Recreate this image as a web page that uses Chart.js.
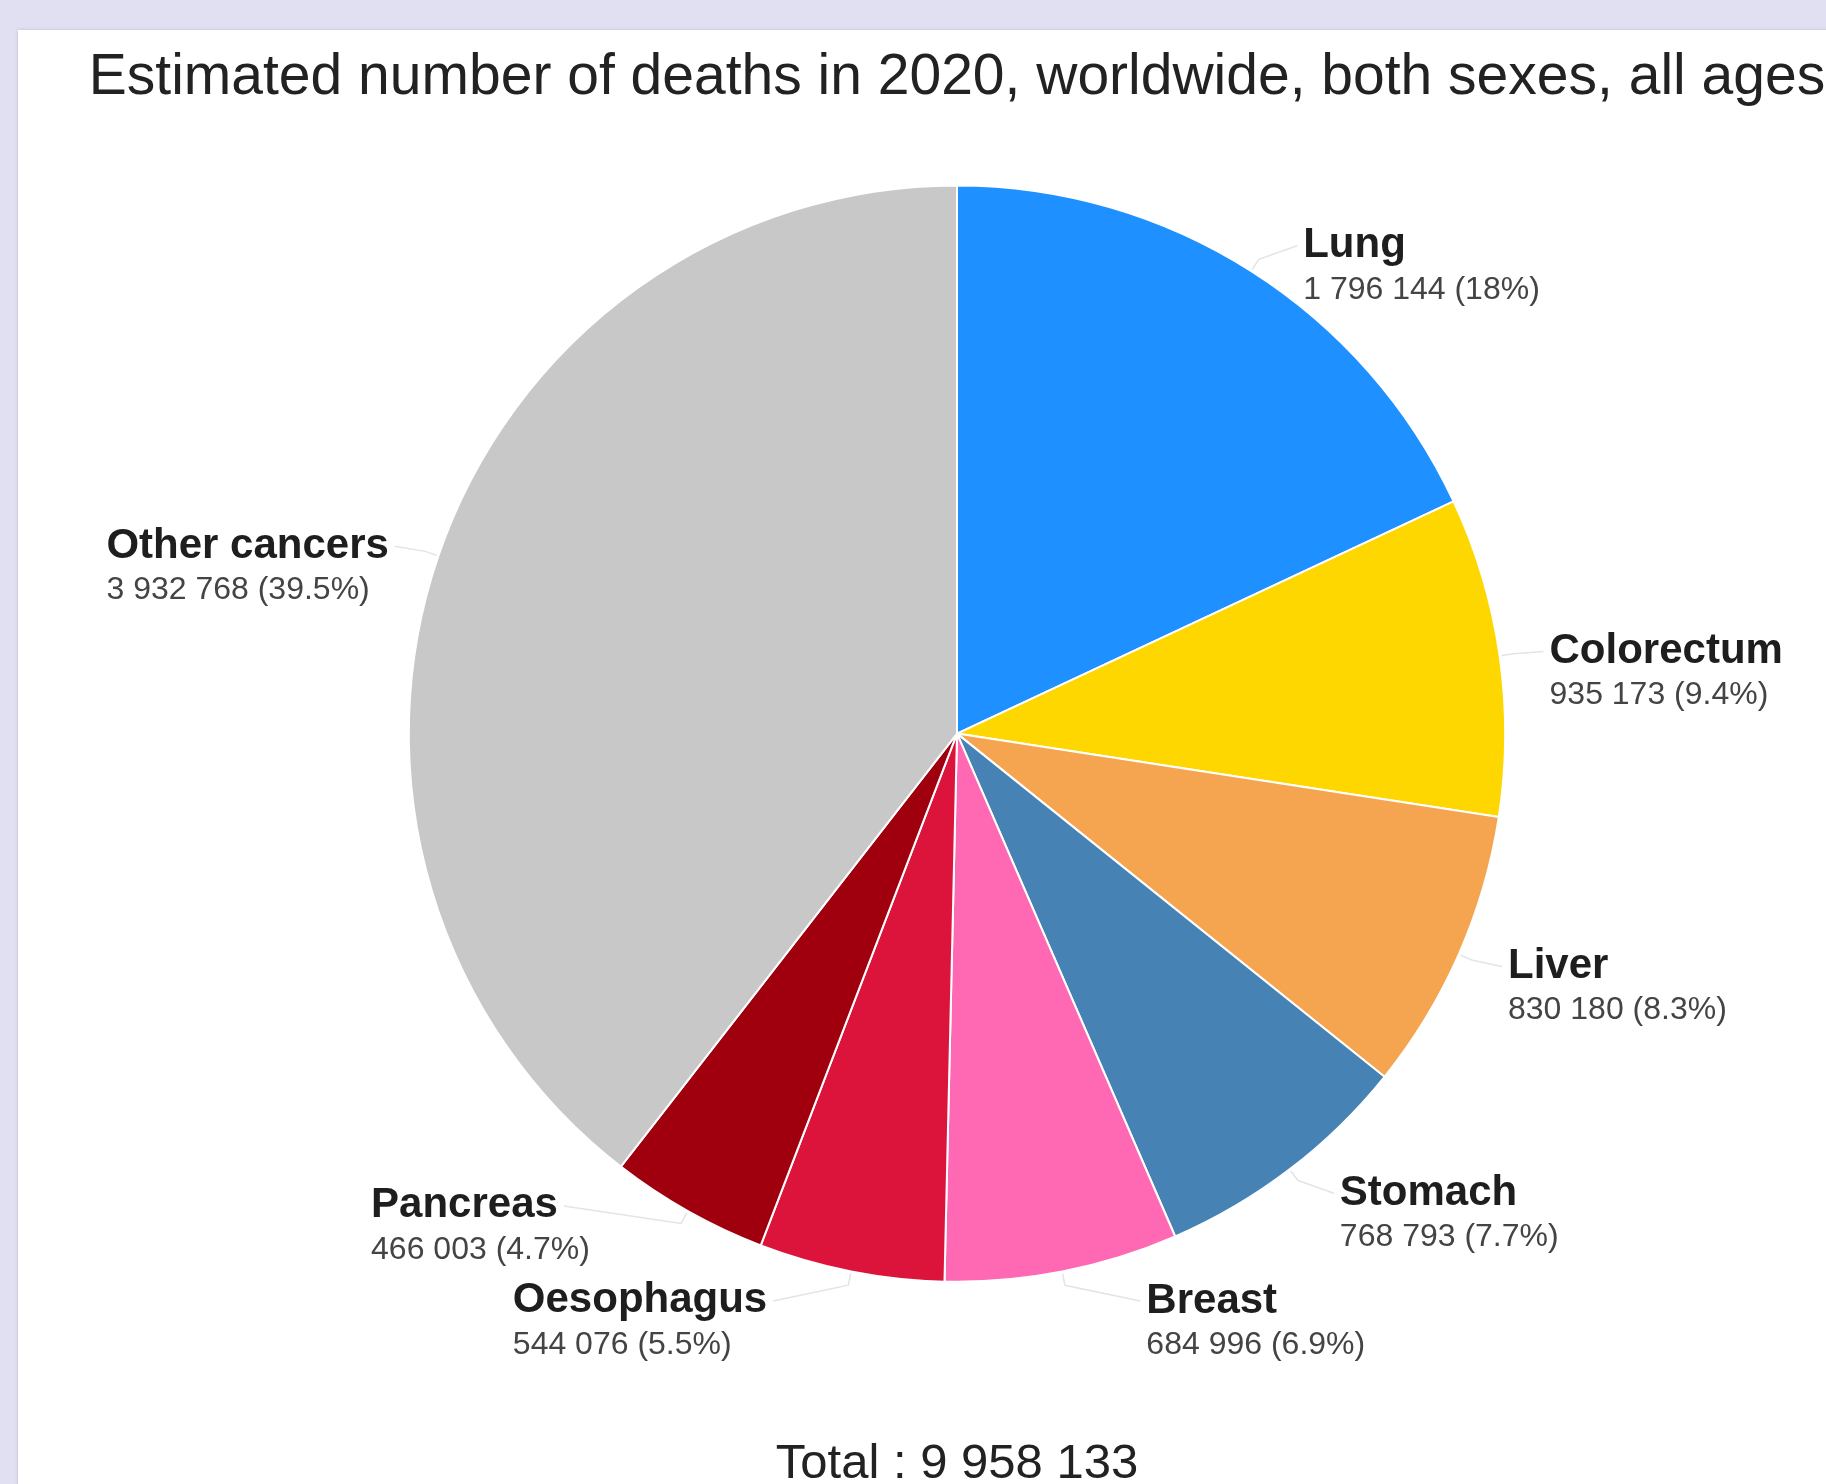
<!DOCTYPE html>
<html lang="en">
<head>
  <meta charset="UTF-8">
  <title>Estimated number of deaths in 2020</title>
  <script src="https://cdn.jsdelivr.net/npm/chart.js"></script>
  <style>
    html, body { margin: 0; padding: 0; background: #e1e0f2; overflow: hidden; }
    #panel { position: absolute; left: 18px; top: 30px; width: 1840px; height: 1500px; background: #fff;
             box-shadow: 0 0 3px rgba(120, 120, 160, 0.35); }
    #deathChart { position: absolute; left: 0; top: 0; }
  </style>
</head>
<body>
  <div id="panel"></div>
  <canvas id="deathChart" width="1826" height="1484"></canvas>

  <script>
    const categories = ['Lung', 'Colorectum', 'Liver', 'Stomach', 'Breast', 'Oesophagus', 'Pancreas', 'Other cancers'];
    const deaths = [1796144, 935173, 830180, 768793, 684996, 544076, 466003, 3932768];
    const sliceColors = ['#1e90ff', '#ffd700', '#f5a54f', '#4682b4', '#ff69b4', '#dc143c', '#a0000e', '#c8c8c8'];
    const titleText = 'Estimated number of deaths in 2020, worldwide, both sexes, all ages';

    const FONT = "'Liberation Sans', Arial, sans-serif";
    const total = deaths.reduce((a, b) => a + b, 0);

    // 1796144 -> "1 796 144"
    function spaced(n) {
      return String(n).replace(/\B(?=(\d{3})+(?!\d))/g, ' ');
    }
    function pct(n) {
      return (n / total * 100).toFixed(1).replace(/\.0$/, '') + '%';
    }

    // labels outside the pie, with faint connectors
    const sliceLabels = {
      id: 'sliceLabels',
      afterDatasetsDraw(chart) {
        const ctx = chart.ctx;
        const meta = chart.getDatasetMeta(0);
        const gap = 95;

        const items = meta.data.map((arc, i) => {
          const a = (arc.startAngle + arc.endAngle) / 2;
          return {
            i, a, arc,
            right: Math.cos(a) >= 0,
            y: arc.y + Math.sin(a) * (arc.outerRadius + 30)
          };
        });

        // push overlapping labels apart, per side
        [true, false].forEach(side => {
          const list = items.filter(it => it.right === side).sort((p, q) => p.y - q.y);
          for (let k = list.length - 2; k >= 0; k--) {
            if (list[k].y > list[k + 1].y - gap) list[k].y = list[k + 1].y - gap;
          }
        });

        ctx.save();
        items.forEach(it => {
          const arc = it.arc;
          const cx = arc.x, cy = arc.y, r = arc.outerRadius;
          const name = categories[it.i];
          const value = spaced(deaths[it.i]) + ' (' + pct(deaths[it.i]) + ')';

          ctx.font = 'bold 42px ' + FONT;
          const wName = ctx.measureText(name).width;
          ctx.font = '32px ' + FONT;
          const wVal = ctx.measureText(value).width;
          const w = Math.max(wName, wVal);

          const dy = it.y - cy;
          const dx = Math.sqrt(Math.max(0, (r + 50) * (r + 50) - dy * dy));
          const left = it.right ? cx + dx : cx - dx - w;

          // connector
          const ex = it.right ? left - 6 : left + wName + 6;
          ctx.strokeStyle = '#e4e4e4';
          ctx.lineWidth = 1.5;
          ctx.beginPath();
          ctx.moveTo(cx + Math.cos(it.a) * (r + 2), cy + Math.sin(it.a) * (r + 2));
          ctx.lineTo(cx + Math.cos(it.a) * (r + 14), cy + Math.sin(it.a) * (r + 14));
          ctx.lineTo(ex, it.y);
          ctx.stroke();

          ctx.textAlign = 'left';
          ctx.textBaseline = 'middle';
          ctx.fillStyle = '#1e1e1e';
          ctx.font = 'bold 42px ' + FONT;
          ctx.fillText(name, left, it.y);
          ctx.fillStyle = '#444';
          ctx.font = '32px ' + FONT;
          ctx.fillText(value, left, it.y + 44);
        });
        ctx.restore();
      }
    };

    const ctx = document.getElementById('deathChart').getContext('2d');
    const deathChart = new Chart(ctx, {
      type: 'pie',
      data: {
        labels: categories,
        datasets: [{
          data: deaths,
          backgroundColor: sliceColors,
          borderColor: '#ffffff',
          borderWidth: 2
        }]
      },
      options: {
        responsive: false,
        animation: false,
        layout: { padding: { left: 88, right: 0, top: 0, bottom: 0 } },
        plugins: {
          legend: { display: false },
          tooltip: { enabled: false },
          title: {
            display: true,
            text: titleText,
            color: '#222',
            font: { family: FONT, size: 57, weight: 'normal', lineHeight: 1.2 },
            padding: { top: 44, bottom: 72 }
          },
          subtitle: {
            display: true,
            position: 'bottom',
            text: 'Total : ' + spaced(total),
            color: '#222',
            font: { family: FONT, size: 49, weight: 'normal', lineHeight: 0.8 },
            padding: { top: 162, bottom: 0 }
          }
        }
      },
      plugins: [sliceLabels]
    });
  </script>
</body>
</html>
